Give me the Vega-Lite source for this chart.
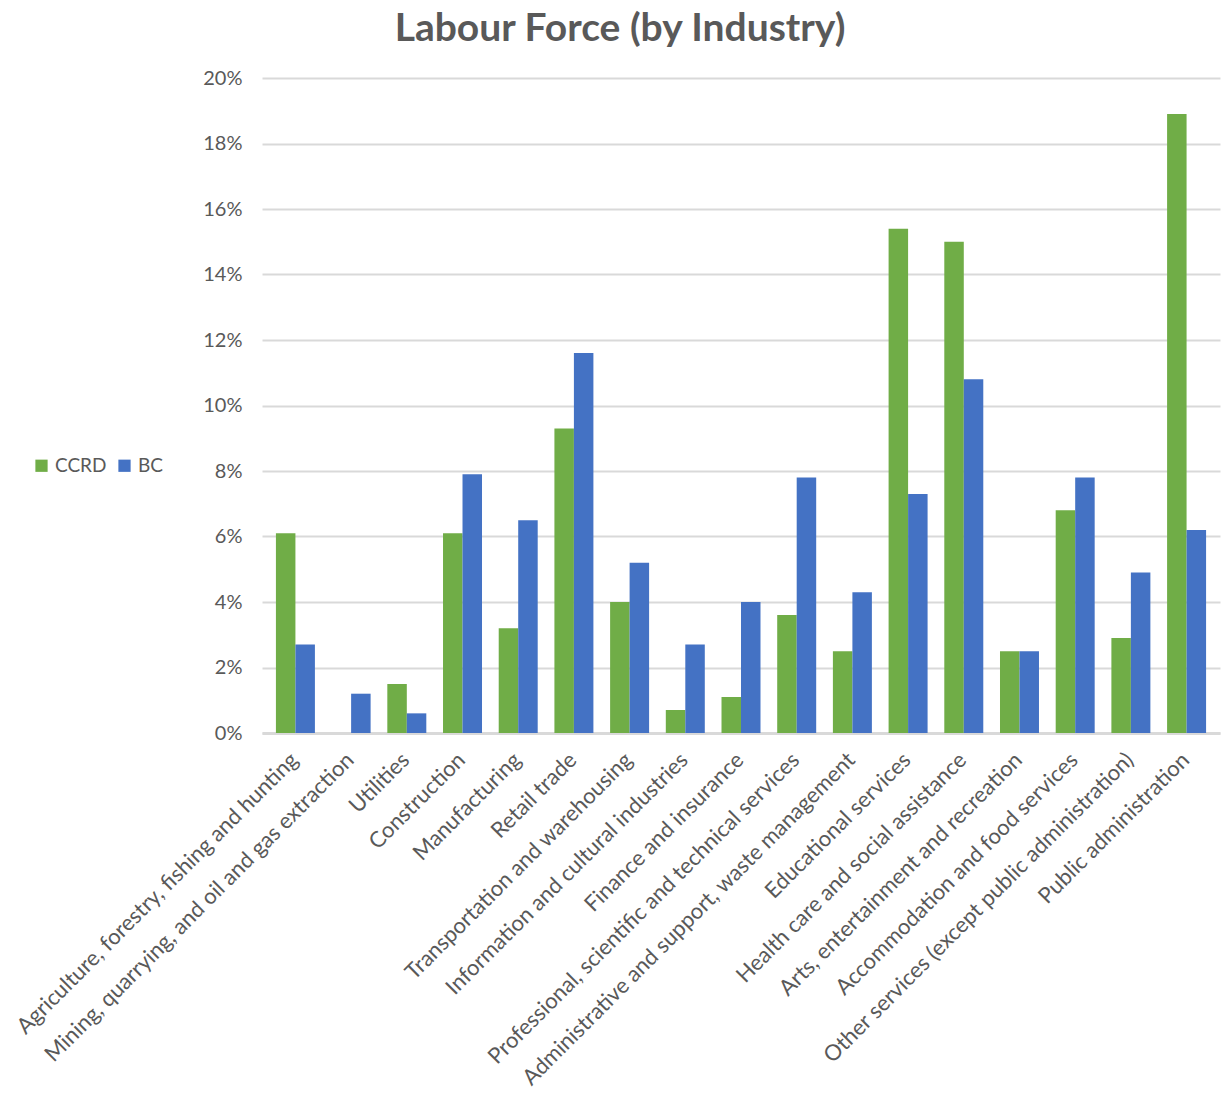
{
  "$schema": "https://vega.github.io/schema/vega-lite/v6.json",
  "autosize": {"type": "none"},
  "padding": {"left": 262, "top": 78, "right": 10, "bottom": 371},
  "width": 958,
  "height": 655,
  "background": "white",
  "title": {
    "text": "Labour Force (by Industry)",
    "font": "Lato",
    "fontSize": 39,
    "fontWeight": "bold",
    "color": "#595959",
    "anchor": "middle",
    "frame": "group",
    "dx": -121,
    "offset": 19
  },
  "config": {
    "view": {"stroke": null},
    "font": "Lato"
  },
  "data": {
    "values": [
      {"industry": "Agriculture, forestry, fishing and hunting", "region": "CCRD", "share": 0.061},
      {"industry": "Agriculture, forestry, fishing and hunting", "region": "BC", "share": 0.027},
      {"industry": "Mining, quarrying, and oil and gas extraction", "region": "CCRD", "share": 0.0},
      {"industry": "Mining, quarrying, and oil and gas extraction", "region": "BC", "share": 0.012},
      {"industry": "Utilities", "region": "CCRD", "share": 0.015},
      {"industry": "Utilities", "region": "BC", "share": 0.006},
      {"industry": "Construction", "region": "CCRD", "share": 0.061},
      {"industry": "Construction", "region": "BC", "share": 0.079},
      {"industry": "Manufacturing", "region": "CCRD", "share": 0.032},
      {"industry": "Manufacturing", "region": "BC", "share": 0.065},
      {"industry": "Retail trade", "region": "CCRD", "share": 0.093},
      {"industry": "Retail trade", "region": "BC", "share": 0.116},
      {"industry": "Transportation and warehousing", "region": "CCRD", "share": 0.04},
      {"industry": "Transportation and warehousing", "region": "BC", "share": 0.052},
      {"industry": "Information and cultural industries", "region": "CCRD", "share": 0.007},
      {"industry": "Information and cultural industries", "region": "BC", "share": 0.027},
      {"industry": "Finance and insurance", "region": "CCRD", "share": 0.011},
      {"industry": "Finance and insurance", "region": "BC", "share": 0.04},
      {"industry": "Professional, scientific and technical services", "region": "CCRD", "share": 0.036},
      {"industry": "Professional, scientific and technical services", "region": "BC", "share": 0.078},
      {"industry": "Administrative and support, waste management", "region": "CCRD", "share": 0.025},
      {"industry": "Administrative and support, waste management", "region": "BC", "share": 0.043},
      {"industry": "Educational services", "region": "CCRD", "share": 0.154},
      {"industry": "Educational services", "region": "BC", "share": 0.073},
      {"industry": "Health care and social assistance", "region": "CCRD", "share": 0.150},
      {"industry": "Health care and social assistance", "region": "BC", "share": 0.108},
      {"industry": "Arts, entertainment and recreation", "region": "CCRD", "share": 0.025},
      {"industry": "Arts, entertainment and recreation", "region": "BC", "share": 0.025},
      {"industry": "Accommodation and food services", "region": "CCRD", "share": 0.068},
      {"industry": "Accommodation and food services", "region": "BC", "share": 0.078},
      {"industry": "Other services (except public administration)", "region": "CCRD", "share": 0.029},
      {"industry": "Other services (except public administration)", "region": "BC", "share": 0.049},
      {"industry": "Public administration", "region": "CCRD", "share": 0.189},
      {"industry": "Public administration", "region": "BC", "share": 0.062}
    ]
  },
  "mark": {"type": "bar"},
  "encoding": {
    "x": {
      "field": "industry",
      "type": "nominal",
      "sort": null,
      "scale": {"paddingInner": 0.3, "paddingOuter": 0.25},
      "axis": {
        "title": null,
        "labelAngle": -45,
        "labelFontSize": 22,
        "labelColor": "#595959",
        "labelPadding": 16,
        "labelOffset": -8,
        "labelLimit": 700,
        "labelOverlap": false,
        "domain": true,
        "domainColor": "#d9d9d9",
        "domainWidth": 3,
        "ticks": false
      }
    },
    "xOffset": {"field": "region", "sort": ["CCRD", "BC"]},
    "y": {
      "field": "share",
      "type": "quantitative",
      "scale": {"domain": [0, 0.2]},
      "axis": {
        "title": null,
        "format": ".0%",
        "values": [0, 0.02, 0.04, 0.06, 0.08, 0.1, 0.12, 0.14, 0.16, 0.18, 0.2],
        "labelOverlap": false,
        "labelFontSize": 20,
        "labelColor": "#595959",
        "labelPadding": 20,
        "domain": false,
        "ticks": false,
        "gridColor": "#d9d9d9",
        "gridWidth": 2
      }
    },
    "color": {
      "field": "region",
      "type": "nominal",
      "sort": ["CCRD", "BC"],
      "scale": {"domain": ["CCRD", "BC"], "range": ["#70AD47", "#4472C4"]},
      "legend": {
        "title": null,
        "orient": "none",
        "legendX": -230,
        "legendY": 378,
        "direction": "horizontal",
        "symbolType": "square",
        "symbolSize": 150,
        "symbolStrokeWidth": 0,
        "labelFontSize": 19,
        "labelColor": "#595959",
        "columnPadding": 8,
        "labelOffset": 4
      }
    }
  }
}
